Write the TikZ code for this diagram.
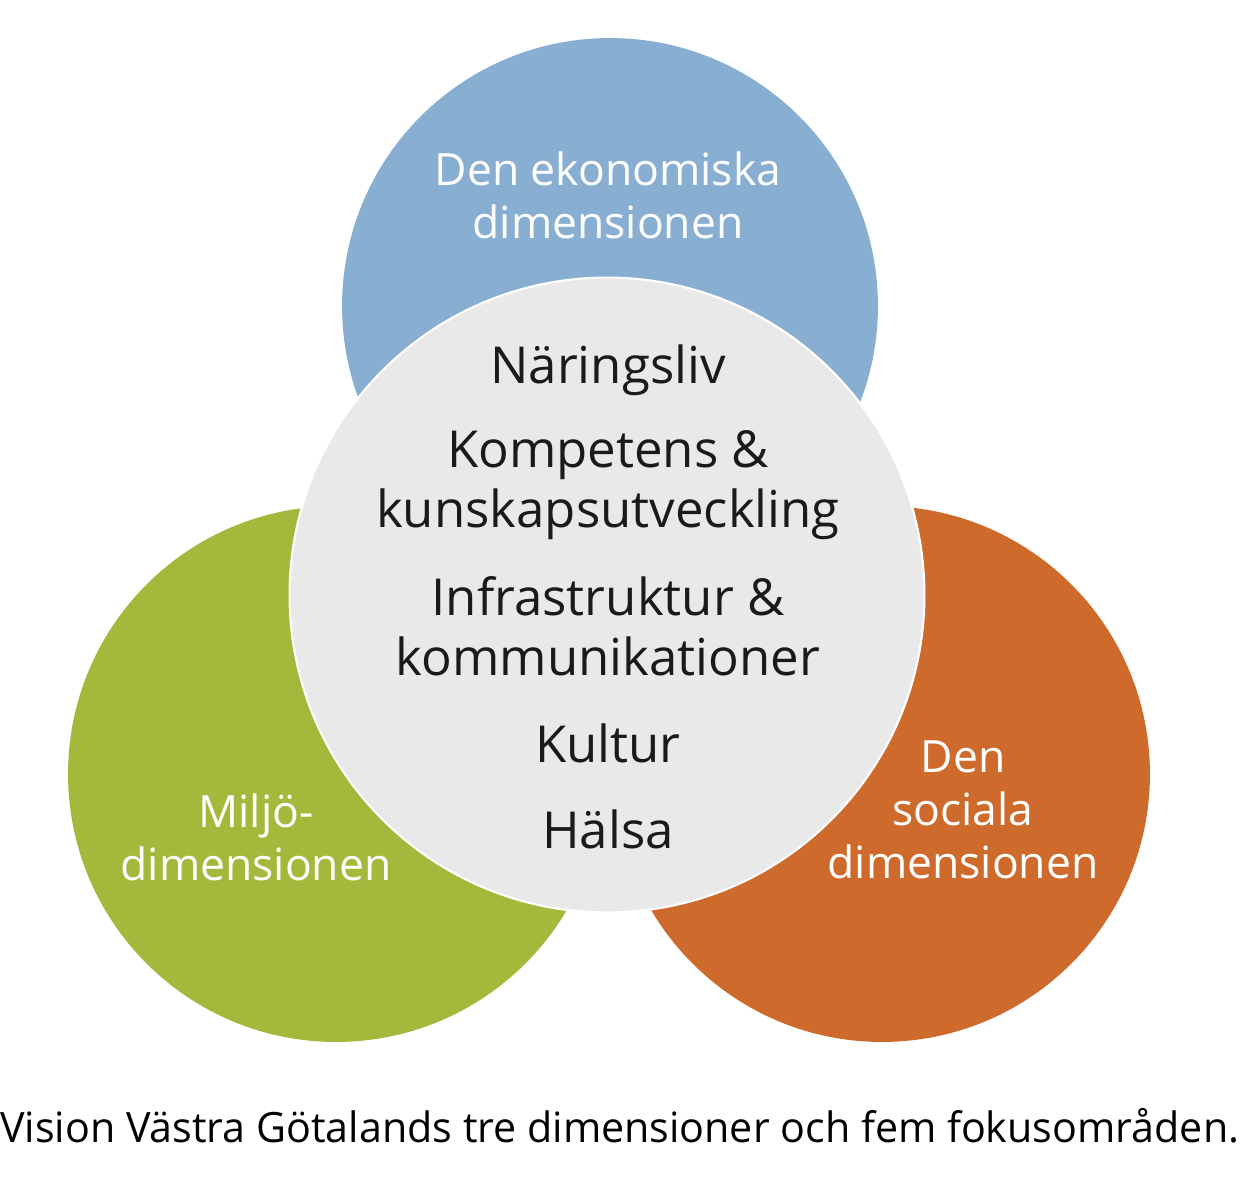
\documentclass[tikz,border=0pt]{standalone}
\usepackage{fontspec}
\setmainfont{Open Sans}
\newfontfamily\capfont[FakeStretch=0.985]{Open Sans}
\definecolor{ekoblue}{HTML}{88AFD1}
\definecolor{miljogreen}{HTML}{A6B83B}
\definecolor{socorange}{HTML}{CE6B2C}
\definecolor{fokusgray}{HTML}{E9E9E9}
\definecolor{fokustext}{HTML}{1A1A1A}
\tikzset{
	dimcircle/.style={circle,minimum size=10.72cm,inner sep=0pt},
	dimtext/.style={anchor=base,align=center,text=white,font=\fontsize{25.3}{30}\selectfont},
	fokusline/.style={anchor=base,align=center,text=fokustext,font=\fontsize{29}{34}\selectfont}
}
\begin{document}
\begin{tikzpicture}[x=0.02cm,y=-0.02cm]
	\useasboundingbox (0,0) rectangle (1251,1200);
	% tre dimensioner
	\node[dimcircle,fill=ekoblue] (eko) at (610,306) {};
	\node[dimcircle,fill=miljogreen] (miljo) at (336,774) {};
	\node[dimcircle,fill=socorange] (social) at (882,774) {};
	\node[circle,minimum size=12.7cm,inner sep=0pt,fill=fokusgray,draw=white,line width=1.2pt] (fokus) at (607,595) {};
	\node[dimtext] (ekotext) at (608,238) {Den ekonomiska\\dimensionen};
	\node[dimtext] (miljotext) at (256,880) {Miljö-\\dimensionen};
	\node[dimtext] (socialtext) at (963,878) {Den\\sociala\\dimensionen};
	% fem fokusområden
	\node[fokusline] (naring) at (608,383) {Näringsliv};
	\node[fokusline] (kompetens) at (608,527) {Kompetens \&\\kunskapsutveckling};
	\node[fokusline] (infra) at (608,675) {Infrastruktur \&\\kommunikationer};
	\node[fokusline] (kultur) at (608,762) {Kultur};
	\node[fokusline] (halsa) at (608,848) {Hälsa};
	\node[anchor=base west,inner sep=0pt,font=\capfont\fontsize{23.8}{28}\selectfont] (caption) at (0,1142) {Vision Västra Götalands tre dimensioner och fem fokusområden.};
\end{tikzpicture}
\end{document}
